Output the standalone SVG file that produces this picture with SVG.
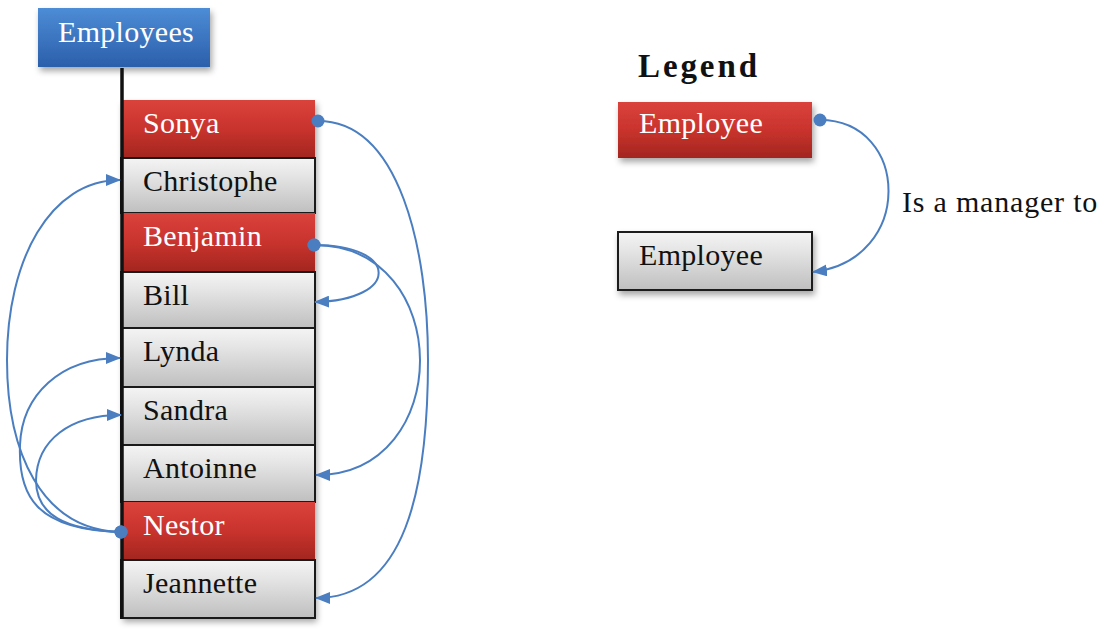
<svg xmlns="http://www.w3.org/2000/svg" width="1108" height="632" viewBox="0 0 1108 632">
<style>
  .t { font-family: "Liberation Serif", "Times New Roman", serif; font-size: 30px; letter-spacing: 0.3px; }
  .w { fill: #ffffff; }
  .k { fill: #111111; }
  .red { fill: url(#gRed); }
  .gray { fill: url(#gGray); stroke: #1a1a1a; stroke-width: 2; }
  .conn { fill: none; stroke: #4a7ec0; stroke-width: 2; }
</style>
<defs>
  <linearGradient id="gBlue" x1="0" y1="0" x2="0" y2="1">
    <stop offset="0" stop-color="#4d8cd6"/>
    <stop offset="1" stop-color="#2b5fab"/>
  </linearGradient>
  <linearGradient id="gRed" x1="0" y1="0" x2="0" y2="1">
    <stop offset="0" stop-color="#da433c"/>
    <stop offset="0.5" stop-color="#c9332d"/>
    <stop offset="1" stop-color="#a2261f"/>
  </linearGradient>
  <linearGradient id="gGray" x1="0" y1="0" x2="0" y2="1">
    <stop offset="0" stop-color="#f4f4f4"/>
    <stop offset="0.3" stop-color="#e6e6e6"/>
    <stop offset="1" stop-color="#bfbfbf"/>
  </linearGradient>
  <filter id="shadow" x="-10%" y="-10%" width="130%" height="130%">
    <feDropShadow dx="2" dy="4" stdDeviation="3" flood-color="#000" flood-opacity="0.35"/>
  </filter>
  <marker id="dot" markerWidth="16" markerHeight="16" refX="8" refY="8" markerUnits="userSpaceOnUse">
    <circle cx="8" cy="8" r="6.5" fill="#4a7ec0"/>
  </marker>
  <marker id="arrow" markerWidth="15" markerHeight="12" refX="14" refY="6" orient="auto" markerUnits="userSpaceOnUse">
    <path d="M0,0 L15,6 L0,12 z" fill="#4a7ec0"/>
  </marker>
</defs>
<rect width="1108" height="632" fill="#ffffff"/>

<g id="employees">
  <rect x="38" y="8" width="172" height="59" fill="url(#gBlue)" filter="url(#shadow)"/>
  <text class="t w" x="58" y="42">Employees</text>
</g>

<rect x="121" y="100" width="194" height="518" fill="#cccccc" filter="url(#shadow)"/>

<g id="sonya">
  <rect class="red" x="121" y="100" width="194" height="58"/>
  <text class="t w" x="143" y="133">Sonya</text>
</g>
<g id="christophe">
  <rect class="gray" x="121" y="158" width="194" height="55"/>
  <text class="t k" x="143" y="191">Christophe</text>
</g>
<g id="benjamin">
  <rect class="red" x="121" y="213" width="194" height="59"/>
  <text class="t w" x="143" y="246">Benjamin</text>
</g>
<g id="bill">
  <rect class="gray" x="121" y="272" width="194" height="56"/>
  <text class="t k" x="143" y="305">Bill</text>
</g>
<g id="lynda">
  <rect class="gray" x="121" y="328" width="194" height="59"/>
  <text class="t k" x="143" y="361">Lynda</text>
</g>
<g id="sandra">
  <rect class="gray" x="121" y="387" width="194" height="58"/>
  <text class="t k" x="143" y="420">Sandra</text>
</g>
<g id="antoinne">
  <rect class="gray" x="121" y="445" width="194" height="57"/>
  <text class="t k" x="143" y="478">Antoinne</text>
</g>
<g id="nestor">
  <rect class="red" x="121" y="502" width="194" height="58"/>
  <text class="t w" x="143" y="535">Nestor</text>
</g>
<g id="jeannette">
  <rect class="gray" x="121" y="560" width="194" height="58"/>
  <text class="t k" x="143" y="593">Jeannette</text>
</g>

<line x1="122" y1="68" x2="122" y2="619" stroke="#111111" stroke-width="3.5"/>

<g id="legend">
  <text x="638" y="77" font-family="Liberation Serif, Times New Roman, serif" font-size="33" font-weight="bold" fill="#111111" textLength="119" lengthAdjust="spacing">Legend</text>
  <g id="legend-manager">
    <rect class="red" x="618" y="102" width="194" height="56" filter="url(#shadow)"/>
    <text class="t w" x="639" y="133">Employee</text>
  </g>
  <g id="legend-employee">
    <rect class="gray" x="618" y="232" width="194" height="58" filter="url(#shadow)"/>
    <text class="t k" x="639" y="265">Employee</text>
  </g>
  <text class="t k" x="902" y="212" style="letter-spacing:0.8px">Is a manager to</text>
</g>

<g id="connectors">
  <path class="conn" marker-start="url(#dot)" marker-end="url(#arrow)" d="M318,121 C400,121 428,250 428,360 C428,490 405,598 316,598"/>
  <path class="conn" marker-start="url(#dot)" marker-end="url(#arrow)" d="M314,245 C455,245 455,475 316,475"/>
  <path class="conn" marker-start="url(#dot)" marker-end="url(#arrow)" d="M314,245 C400,245 400,300 315,302"/>
  <path class="conn" marker-start="url(#dot)" marker-end="url(#arrow)" d="M121,532 C40,530 7,450 7,360 C7,260 50,180 120,180"/>
  <path class="conn" marker-start="url(#dot)" marker-end="url(#arrow)" d="M121,532 C35,530 18,495 20,445 C22,395 60,358 120,358"/>
  <path class="conn" marker-start="url(#dot)" marker-end="url(#arrow)" d="M121,532 C65,530 36,515 36,480 C37,440 70,415 121,415"/>
  <path class="conn" marker-start="url(#dot)" marker-end="url(#arrow)" d="M820,120 C910,120 915,260 813,272"/>
</g>
</svg>
